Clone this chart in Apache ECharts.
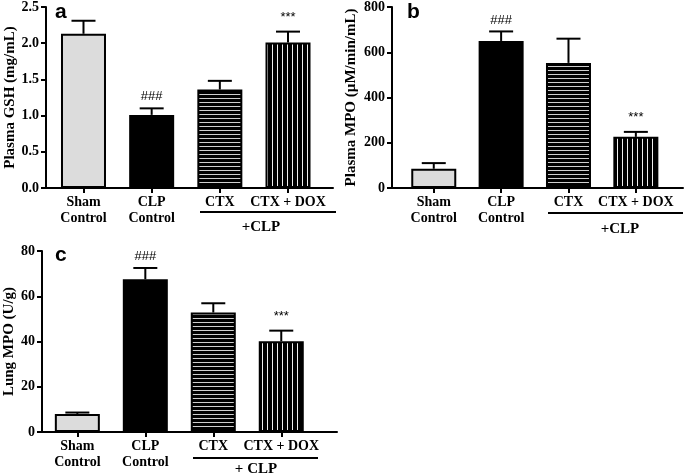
<!DOCTYPE html>
<html><head><meta charset="utf-8">
<script src="https://cdn.jsdelivr.net/npm/echarts@6/dist/echarts.min.js"></script>
<style>html,body{margin:0;padding:0;background:#fff}#c{width:685px;height:476px}</style>
</head><body><div id="c"></div>
<script>
// ---- data ----
const categories = ['Sham\nControl', 'CLP\nControl', 'CTX', 'CTX + DOX'];
const gshMean = [2.13, 1.01, 1.36, 2.01];
const gshSem  = [0.18, 0.09, 0.12, 0.15];
const gshMarks = ['', '###', '', '***'];
const pmpoMean = [85, 650, 553, 226];
const pmpoSem  = [25, 42, 107, 22];
const pmpoMarks = ['', '###', '', '***'];
const lmpoMean = [8.0, 67.5, 52.8, 40.1];
const lmpoSem  = [0.6, 5.0, 4.1, 4.7];
const lmpoMarks = ['', '###', '', '***'];
const yTicksA = [0, 0.5, 1.0, 1.5, 2.0, 2.5];
const yTicksB = [0, 200, 400, 600, 800];
const yTicksC = [0, 20, 40, 60, 80];

// ---- patterns ----
function hStripe(){const c=document.createElement('canvas');c.width=4;c.height=4;const g=c.getContext('2d');g.fillStyle='#000';g.fillRect(0,0,4,4);g.fillStyle='#cfcfcf';g.fillRect(0,2,4,1);return c;}
function vStripe(){const c=document.createElement('canvas');c.width=5;c.height=4;const g=c.getContext('2d');g.fillStyle='#000';g.fillRect(0,0,5,4);g.fillStyle='#f0f0f0';g.fillRect(2,0,1,4);return c;}
const fills = ['#dcdcdc', '#000', {image: hStripe(), repeat: 'repeat'}, {image: vStripe(), repeat: 'repeat'}];

const serif = '"Liberation Serif","Times New Roman",serif';
const grids = [
  {left: 46, top: 7, width: 287, height: 181},
  {left: 392, top: 7, width: 291, height: 181},
  {left: 42, top: 251, width: 295, height: 181}
];
const xr = [[-0.55, 3.66], [-0.62, 3.70], [-0.52, 3.82]];
const panels = [
  {mean: gshMean, sem: gshSem, marks: gshMarks, ticks: yTicksA, name: 'Plasma GSH (mg/mL)', gap: 26, fmt: v => v.toFixed(1)},
  {mean: pmpoMean, sem: pmpoSem, marks: pmpoMarks, ticks: yTicksB, name: 'Plasma MPO (µM/min/mL)', gap: 33, fmt: v => String(v)},
  {mean: lmpoMean, sem: lmpoSem, marks: lmpoMarks, ticks: yTicksC, name: 'Lung MPO (U/g)', gap: 22, fmt: v => String(v)}
];

const xAxis = [], yAxis = [], series = [];
panels.forEach((p, i) => {
  xAxis.push({
    type: 'value', gridIndex: i, min: xr[i][0], max: xr[i][1],
    splitLine: {show: false},
    axisLine: {show: true, onZero: false, lineStyle: {color: '#000', width: 2}},
    axisTick: {show: true, customValues: [0, 1, 2, 3], length: 5, lineStyle: {color: '#000', width: 2}},
    axisLabel: {show: true, customValues: [0, 1, 2, 3], formatter: v => categories[Math.round(v)],
      fontFamily: serif, fontWeight: 'bold', fontSize: 14, color: '#000', lineHeight: 16, margin: 6}
  });
  const t = p.ticks;
  yAxis.push({
    type: 'value', gridIndex: i, min: t[0], max: t[t.length - 1], interval: t[1] - t[0],
    name: p.name, nameLocation: 'middle', nameGap: p.gap, nameRotate: 90,
    nameTextStyle: {fontFamily: serif, fontWeight: 'bold', fontSize: 15, color: '#000'},
    splitLine: {show: false},
    axisLine: {show: true, onZero: false, lineStyle: {color: '#000', width: 2}},
    axisTick: {show: true, length: 5, lineStyle: {color: '#000', width: 2}},
    axisLabel: {formatter: p.fmt, fontFamily: serif, fontWeight: 'bold', fontSize: 14, color: '#000', margin: 7}
  });
  series.push({
    type: 'bar', xAxisIndex: i, yAxisIndex: i, barWidth: 45,
    data: p.mean.map((v, k) => ({value: [k, v], itemStyle: {color: fills[k], borderColor: '#000', borderWidth: 2}})),
    silent: true, animation: false
  });
  series.push({
    type: 'custom', xAxisIndex: i, yAxisIndex: i, animation: false, silent: true,
    data: p.mean.map((v, k) => [k, v, v + p.sem[k]]),
    renderItem: (params, api) => {
      const k = api.value(0);
      const base = api.coord([k, api.value(1)]);
      const top = api.coord([k, api.value(2)]);
      const mk = p.marks[k];
      const children = [
        {type: 'line', shape: {x1: base[0], y1: base[1], x2: top[0], y2: top[1]}, style: {stroke: '#000', lineWidth: 2}},
        {type: 'line', shape: {x1: top[0] - 12, y1: top[1], x2: top[0] + 12, y2: top[1]}, style: {stroke: '#000', lineWidth: 2}}
      ];
      if (mk) children.push({type: 'text', x: top[0], y: top[1] - (mk === '***' ? 8 : 5),
        style: {text: mk, textAlign: 'center', textVerticalAlign: 'bottom', fontFamily: '"Liberation Sans",Arial,sans-serif', fontSize: 13, fill: '#000'}});
      return {type: 'group', children};
    }
  });
});

const letter = (txt, x, y) => ({type: 'text', left: x, top: y, style: {text: txt, font: 'bold 21px "Liberation Sans", Arial, sans-serif', fill: '#000'}});
const clpLabel = (txt, cx, y) => ({type: 'text', x: cx, y: y, style: {text: txt, textAlign: 'center', textVerticalAlign: 'middle', font: 'bold 15px ' + serif, fill: '#000'}});
const bracket = (x1, x2, y) => ({type: 'line', shape: {x1, y1: y, x2, y2: y}, style: {stroke: '#000', lineWidth: 2}});

const chart = echarts.init(document.getElementById('c'), null, {renderer: 'canvas'});
chart.setOption({
  animation: false,
  grid: grids,
  xAxis, yAxis, series,
  graphic: [
    letter('a', 55, 2), letter('b', 407, 2), letter('c', 55, 245),
    bracket(200, 336, 212), clpLabel('+CLP', 261, 227),
    bracket(548, 683, 213), clpLabel('+CLP', 620, 229),
    bracket(193, 318, 458), clpLabel('+ CLP', 256, 469)
  ]
});
</script></body></html>
